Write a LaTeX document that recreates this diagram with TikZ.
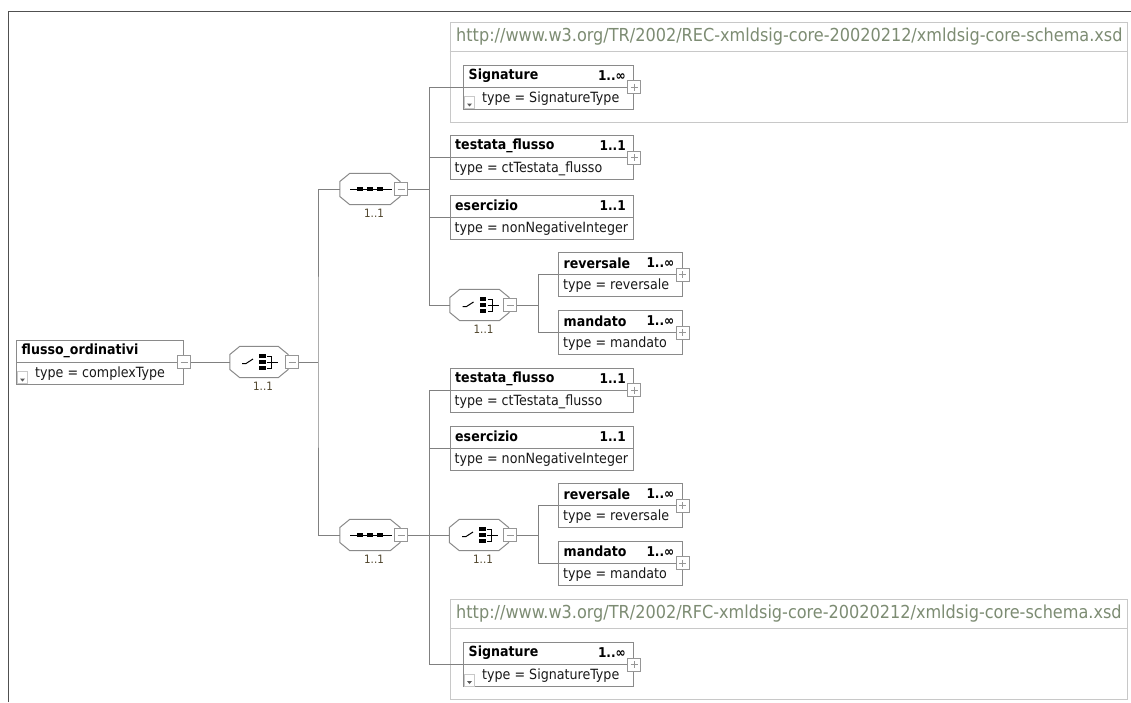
\documentclass[tikz,border=0pt]{standalone}
\usepackage{fontspec}
\setmainfont{DejaVu Sans Condensed}
\usetikzlibrary{calc}
\definecolor{boxgray}{RGB}{138,138,138}
\definecolor{conngray}{RGB}{128,128,128}
\definecolor{grpgray}{RGB}{200,200,200}
\definecolor{hdrcol}{RGB}{125,140,115}
\definecolor{btngray}{RGB}{150,150,150}
\definecolor{framegray}{RGB}{80,80,80}
\definecolor{cardlbl}{RGB}{80,70,45}
\tikzset{
  conn/.style={draw=conngray, line width=1pt},
  elem/.style={draw=boxgray, fill=white, line width=1pt, inner sep=0pt, rectangle},
  grpbox/.style={draw=grpgray, fill=white, line width=1pt, inner sep=0pt, rectangle},
  btn/.style={draw=btngray, fill=white, line width=0.9pt, minimum size=13pt, inner sep=0pt, rectangle},
  sign/.style={draw=btngray, line width=1pt},
  ddicon/.style={draw=grpgray, fill=white, line width=0.8pt, minimum width=10pt, minimum height=12pt, inner sep=0pt, rectangle},
  nametext/.style={font=\fontsize{14}{15}\selectfont\bfseries, inner sep=0pt, anchor=west, text=black},
  cardtext/.style={font=\fontsize{13.5}{14}\selectfont\bfseries, inner sep=0pt, anchor=east, text=black},
  typetext/.style={font=\fontsize{14.1}{15}\selectfont, inner sep=0pt, anchor=west, text=black!90},
  hdrtext/.style={font=\fontsize{17.9}{18}\selectfont, text=hdrcol, inner sep=0pt, anchor=west},
  occlabel/.style={font=\fontsize{11.5}{12}\selectfont, text=cardlbl, inner sep=0pt},
  octbox/.style={minimum width=#1, minimum height=31pt, inner sep=0pt, rectangle},
  iconline/.style={draw=black, line width=1pt},
}
% #1 name, #2 center, #3 width, #4 title, #5 card, #6 type, #7 icon (1/0), #8 button (0 none,1 plus,2 minus)
\newcommand\XElem[8]{%
  \node[elem, minimum width=#3pt, minimum height=44pt] (#1) at (#2) {};
  \draw[draw=boxgray, line width=1pt] (#1.west) -- (#1.east);
  \node[nametext] (#1-n) at ($(#1.north west)+(5.5,11)$) {#4};
  \node[cardtext] (#1-c) at ($(#1.north east)+(-8,11)$) {#5};
  \ifnum#7=1
    \node[ddicon] (#1-i) at ($(#1.south west)+(6.5,-7)$) {};
    \fill[black!65] ($(#1-i.center)+(-2.5,1)$) -- ++(5,0) -- ++(-2.5,3) -- cycle;
    \node[typetext] (#1-t) at ($(#1.south west)+(19,-11)$) {#6};
  \else
    \node[typetext] (#1-t) at ($(#1.south west)+(5,-11)$) {#6};
  \fi
  \ifnum#8>0
    \node[btn] (#1-b) at (#1.east) {};
    \draw[sign] ($(#1-b.center)+(-3.5,0)$) -- ++(7,0);
  \fi
  \ifnum#8=1
    \draw[sign] ($(#1-b.center)+(0,-3.5)$) -- ++(0,7);
  \fi
}
% #1 name, #2 center, #3 width, #4 kind (1 sequence, 2 choice), #5 button center
\newcommand\XOct[5]{%
  \node[octbox=#3pt] (#1) at (#2) {};
  \draw[draw=boxgray, fill=white, line width=1pt]
    ($(#1.north west)+(10,0)$) -- ($(#1.north east)+(-10,0)$) -- ($(#1.east)+(0,-7.5)$)
    -- ($(#1.east)+(0,7.5)$) -- ($(#1.south east)+(-10,0)$) -- ($(#1.south west)+(10,0)$)
    -- ($(#1.west)+(0,7.5)$) -- ($(#1.west)+(0,-7.5)$) -- cycle;
  \ifnum#4=1
    \draw[iconline] ($(#1.center)+(-20,0)$) -- ($(#1.center)+(22,0)$);
    \foreach \dx in {-10,0,10}{
      \fill[black] ($(#1.center)+(\dx-3,-2.2)$) rectangle ($(#1.center)+(\dx+3,2.2)$);
    }
  \else
    \draw[iconline] ($(#1.center)+(-17,1.5)$) -- ($(#1.center)+(-13,1.5)$) -- ($(#1.center)+(-6,-3)$);
    \foreach \dy in {-6,0,6}{
      \fill[black] ($(#1.center)+(0,\dy-2.2)$) rectangle ($(#1.center)+(6.5,\dy+2.2)$);
    }
    \draw[iconline] ($(#1.center)+(8,-6)$) -- ($(#1.center)+(12.5,-6)$) -- ($(#1.center)+(12.5,6)$) -- ($(#1.center)+(8,6)$);
    \draw[iconline] ($(#1.center)+(8,0)$) -- ($(#1.center)+(19,0)$);
  \fi
  \node[occlabel] (#1-l) at ($(#1.south)+(4,8.5)$) {1..1};
  \node[btn] (#1-b) at (#5) {};
  \draw[sign] ($(#1-b.center)+(-3.5,0)$) -- ++(7,0);
}
\begin{document}
\begin{tikzpicture}[x=1pt, y=-1pt]
\useasboundingbox (0,0) rectangle (1131,702);
% frame
\draw[framegray, line width=1.5pt] (8.5,702) -- (8.5,11.5) -- (1131,11.5);

% namespace groups
\node[grpbox, minimum width=677pt, minimum height=100pt] (grp1) at (788.5,72) {};
\draw[draw=grpgray, line width=1pt] ($(grp1.north west)+(0,29.5)$) -- ($(grp1.north east)+(0,29.5)$);
\node[hdrtext] (grp1-h) at (456,37) {http://www.w3.org/TR/2002/REC-xmldsig-core-20020212/xmldsig-core-schema.xsd};

\node[grpbox, minimum width=677pt, minimum height=100pt] (grp2) at (788.5,649.5) {};
\draw[draw=grpgray, line width=1pt] ($(grp2.north west)+(0,29)$) -- ($(grp2.north east)+(0,29)$);
\node[hdrtext] (grp2-h) at (456,614) {http://www.w3.org/TR/2002/RFC-xmldsig-core-20020212/xmldsig-core-schema.xsd};

% elements
\XElem{root}{100,362}{167}{flusso\_ordinativi}{}{type = complexType}{1}{2}
\XElem{sig1}{548.5,87}{170}{Signature}{1..∞}{type = SignatureType}{1}{1}
\XElem{tes1}{541.75,157.5}{183.5}{testata\_flusso}{1..1}{type = ctTestata\_flusso}{0}{1}
\XElem{ese1}{541.75,217}{183.5}{esercizio}{1..1}{type = nonNegativeInteger}{0}{0}
\XElem{rev1}{620.25,274.5}{123.5}{reversale}{1..∞}{type = reversale}{0}{1}
\XElem{man1}{620.25,332.5}{123.5}{mandato}{1..∞}{type = mandato}{0}{1}
\XElem{tes2}{541.75,390}{183.5}{testata\_flusso}{1..1}{type = ctTestata\_flusso}{0}{1}
\XElem{ese2}{541.75,448}{183.5}{esercizio}{1..1}{type = nonNegativeInteger}{0}{0}
\XElem{rev2}{620.25,505.5}{123.5}{reversale}{1..∞}{type = reversale}{0}{1}
\XElem{man2}{620.25,563}{123.5}{mandato}{1..∞}{type = mandato}{0}{1}
\XElem{sig2}{548.5,664.5}{170}{Signature}{1..∞}{type = SignatureType}{1}{1}

% compositors
\XOct{ch0}{259,362}{58}{2}{292,362}
\XOct{seq1}{370,189}{60}{1}{401,189}
\XOct{ch1}{479.5,305}{59}{2}{510,305}
\XOct{seq2}{370,535}{60}{1}{401,535}
\XOct{ch2}{479,535}{59}{2}{510,535}

% bus points
\coordinate (b0) at (318,362);
\coordinate (b1) at (429.5,189);
\coordinate (b1c) at (538.5,305);
\coordinate (b2) at (429.5,535);
\coordinate (b2c) at (538.5,535);

% connectors
\draw[conn] (root-b.east) -- (ch0.west);
\draw[conn] (ch0-b.east) -- (b0);
\draw[conn] (seq1.west) -| (b0) |- (seq2.west);

\draw[conn] (seq1-b.east) -- (b1);
\draw[conn] (sig1.west) -| (b1) |- (ch1.west);
\draw[conn] (tes1.west) -- (tes1.west -| b1);
\draw[conn] (ese1.west) -- (ese1.west -| b1);
\draw[conn] (ch1-b.east) -- (b1c);
\draw[conn] (rev1.west) -| (b1c) |- (man1.west);

\draw[conn] (seq2-b.east) -- (b2);
\draw[conn] (tes2.west) -| (b2) |- (sig2.west);
\draw[conn] (ese2.west) -- (ese2.west -| b2);
\draw[conn] (b2) -- (ch2.west);
\draw[conn] (ch2-b.east) -- (b2c);
\draw[conn] (rev2.west) -| (b2c) |- (man2.west);
\end{tikzpicture}
\end{document}
